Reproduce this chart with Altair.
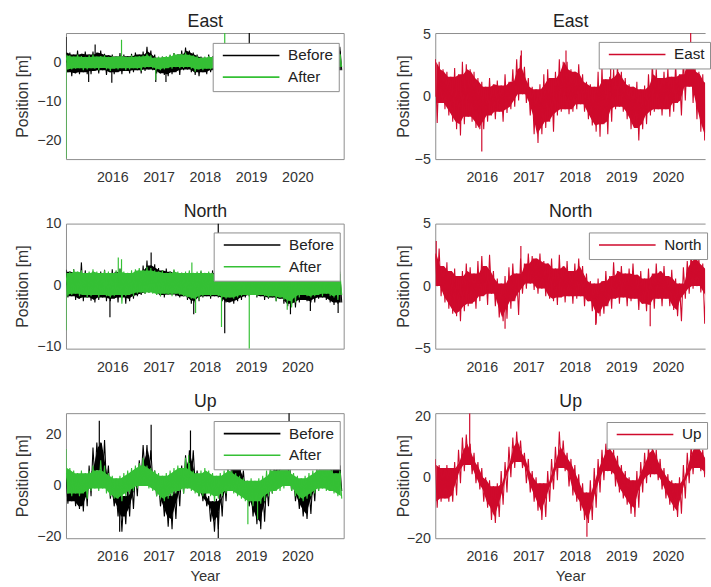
import altair as alt
import pandas as pd

START_YEAR = 2015.0
YEAR_TICKS = [2016, 2017, 2018, 2019, 2020]
BLACK = "#000000"
GREEN = "#35c035"
RED = "#cf0a2c"

# ---- monthly high / low envelopes (Jan 2015 .. Dec 2020) ----
# Left column: East
LE_BEFORE_HI = [2.5, 2.5, 2.0, 3.0, 2.2, 2.8, 2.0, 2.8, 2.5, 3.0, 2.2, 1.8,
                2.0, 1.5, 2.4, 2.0, 1.6, 2.2, 2.5, 2.0, 2.8, 4.0, 3.0, 2.0,
                1.2, 1.5, 1.0, 1.8, 2.4, 2.0, 3.0, 3.8, 3.0, 2.5, 2.0, 1.5,
                1.2, 2.0, 1.5, 2.5, 2.0, 2.0, 2.2, 2.0, 2.4, 2.4, 2.0, 2.2,
                2.2, 2.4, 1.8, 2.6, 2.0, 2.2, 1.6, 2.4, 2.0, 2.8, 2.2, 1.8,
                2.0, 2.6, 2.2, 1.8, 2.4, 2.0, 2.6, 2.2, 2.0, 1.5, 3.0, 4.0]
LE_BEFORE_LO = [-2.5, -3.5, -2.8, -3.0, -2.5, -3.0, -3.0, -2.2, -2.8, -2.0, -3.2, -2.5,
                -3.0, -2.5, -3.0, -2.2, -2.8, -2.5, -2.0, -2.8, -2.2, -1.8, -2.0, -2.8,
                -2.8, -3.2, -3.5, -3.0, -2.5, -3.2, -2.0, -1.8, -2.5, -3.2, -3.5, -2.5,
                -3.0, -2.5, -2.0, -2.5, -2.6, -2.5, -3.0, -2.5, -2.0, -2.0, -2.8, -3.0,
                -2.5, -2.2, -2.8, -2.4, -3.0, -2.0, -2.6, -2.2, -2.8, -2.0, -2.4, -3.0,
                -2.6, -2.2, -2.8, -2.4, -2.0, -2.6, -3.0, -2.6, -3.0, -3.4, -3.5, -2.0]
LE_AFTER_HI = [2.0, 1.8, 1.5, 2.0, 1.6, 1.4, 1.8, 2.0, 1.5, 1.6, 1.8, 1.4,
               1.6, 1.5, 1.6, 1.6, 1.4, 1.8, 1.5, 1.6, 1.8, 2.2, 1.8, 1.2,
               1.5, 1.4, 1.6, 2.0, 2.4, 2.0, 2.2, 2.5, 2.0, 1.8, 1.6, 1.2,
               1.5, 1.6, 1.4, 1.8, 1.6, 1.6, 1.6, 1.5, 1.8, 1.6, 1.4, 1.8,
               1.6, 1.8, 1.4, 1.6, 1.8, 1.5, 1.7, 1.6, 1.4, 1.8, 1.6, 1.5,
               1.7, 1.6, 1.8, 1.5, 1.6, 1.8, 1.6, 1.5, 1.8, 1.6, 2.0, 2.2]
LE_AFTER_LO = [-1.8, -1.8, -1.6, -1.5, -2.0, -1.8, -1.5, -1.6, -2.0, -1.4, -1.8, -2.2,
               -1.6, -1.8, -1.5, -2.0, -1.8, -1.5, -1.6, -2.2, -1.4, -1.2, -1.5, -1.8,
               -2.0, -1.8, -1.5, -1.6, -1.2, -1.5, -1.4, -1.2, -1.6, -2.4, -1.8, -2.0,
               -1.6, -1.8, -1.6, -1.5, -1.8, -1.6, -1.5, -1.8, -1.6, -1.4, -1.8, -1.6,
               -1.6, -1.4, -1.8, -1.5, -1.7, -1.6, -1.4, -1.8, -1.6, -1.5, -1.7, -1.6,
               -1.4, -1.8, -1.5, -1.6, -1.4, -1.6, -1.8, -1.5, -1.4, -1.6, -1.4, -1.2]
LE_BEFORE_SPIKE_T = [2015.0, 2015.49, 2015.63, 2015.99, 2016.94, 2017.16, 2018.40, 2018.96, 2020.80]
LE_BEFORE_SPIKE_V = [6.5, -5.0, 4.6, -5.2, -5.0, -5.0, -6.7, 7.5, -4.7]
LE_BEFORE_SPIKE_B = [0, 0, 0, 0, 0, 0, 0, 0, 0]
LE_AFTER_SPIKE_T = [2015.0, 2016.20, 2016.94, 2018.43, 2018.96]
LE_AFTER_SPIKE_V = [-24.5, 5.8, -4.5, 7.5, -7.0]
LE_AFTER_SPIKE_B = [0, 0, 0, 0, 0]

# Left column: North
LN_BEFORE_HI = [2.5, 2.2, 2.6, 2.0, 3.7, 2.4, 2.0, 2.2, 1.8, 2.2, 2.5, 2.0,
                2.6, 2.2, 2.7, 1.8, 1.6, 1.8, 2.2, 2.5, 3.2, 4.0, 3.2, 3.4,
                2.8, 2.4, 2.7, 2.2, 2.4, 1.8, 2.0, 1.6, 2.2, 1.8, 2.0, 2.2,
                1.8, 2.0, 2.4, 2.0, 1.6, 1.2, 1.0, 1.4, 1.2, 1.6, 1.8, 2.0,
                1.8, 2.2, 1.6, 1.8, 1.4, 1.6, 1.8, 1.4, 1.2, 1.0, 0.8, 1.2,
                1.6, 1.8, 2.0, 1.6, 1.4, 1.8, 2.2, 2.0, 2.6, 1.8, 1.4, 1.8]
LN_BEFORE_LO = [-2.0, -1.8, -2.4, -2.2, -2.6, -2.0, -2.5, -2.8, -2.4, -2.0, -2.6, -2.6,
                -2.2, -2.8, -2.0, -3.0, -2.6, -2.2, -1.8, -1.6, -1.4, -1.2, -1.0, -1.6,
                -1.8, -2.0, -1.6, -1.5, -1.8, -2.0, -1.8, -2.4, -3.0, -2.8, -2.6, -2.0,
                -1.8, -2.2, -1.8, -2.0, -2.6, -2.8, -2.8, -3.0, -2.6, -2.4, -2.0, -1.8,
                -1.6, -2.0, -1.8, -2.4, -2.2, -2.0, -2.6, -2.2, -3.0, -3.4, -3.0, -3.6,
                -2.8, -2.4, -2.6, -2.8, -2.8, -2.2, -2.0, -2.4, -2.8, -3.2, -3.0, -2.8]
LN_AFTER_HI = [2.0, 2.2, 2.6, 2.2, 2.4, 2.0, 2.2, 2.6, 2.2, 2.0, 2.4, 2.2,
               2.0, 2.4, 2.6, 2.2, 2.0, 2.4, 2.6, 2.8, 2.4, 3.0, 2.8, 2.4,
               2.2, 2.4, 2.0, 2.2, 2.6, 2.2, 2.0, 2.2, 2.4, 2.0, 2.2, 2.4,
               2.0, 2.2, 2.0, 1.8, 1.6, 1.4, 1.6, 1.8, 1.6, 1.8, 2.0, 1.8,
               2.0, 2.2, 1.8, 2.0, 1.6, 1.8, 2.0, 1.6, 1.4, 1.2, 1.0, 1.4,
               1.8, 2.0, 2.2, 2.0, 1.8, 2.0, 2.2, 2.6, 2.2, 2.0, 1.8, 2.2]
LN_AFTER_LO = [-1.8, -1.6, -1.4, -1.8, -1.6, -2.0, -1.8, -1.6, -2.0, -1.6, -1.8, -2.0,
               -1.8, -1.6, -3.0, -1.8, -1.6, -1.8, -1.4, -1.2, -1.4, -1.2, -1.4, -1.6,
               -1.8, -1.4, -1.6, -1.8, -1.4, -1.6, -1.8, -2.0, -2.2, -2.2, -2.4, -1.8,
               -1.6, -1.8, -1.6, -1.8, -2.0, -2.2, -2.0, -2.2, -2.0, -1.8, -1.6, -1.8,
               -1.6, -1.8, -1.6, -1.8, -2.0, -1.8, -2.6, -2.0, -2.4, -2.6, -3.6, -2.8,
               -2.0, -1.6, -1.8, -2.0, -1.8, -1.6, -1.8, -1.4, -1.8, -2.0, -2.4, -1.6]
LN_BEFORE_SPIKE_T = [2015.95, 2016.84, 2017.76, 2018.29, 2018.43, 2019.85, 2020.28, 2020.88]
LN_BEFORE_SPIKE_V = [-5.2, 5.3, -4.7, 10.0, -7.8, -4.7, -4.2, -4.5]
LN_BEFORE_SPIKE_B = [0, 0, 0, 0, 0, 0, 0, 0]
LN_AFTER_SPIKE_T = [2015.0, 2016.13, 2016.20, 2017.72, 2017.80, 2018.36, 2018.96, 2019.78]
LN_AFTER_SPIKE_V = [-7.3, 4.5, 4.2, 3.7, -4.5, -6.8, -10.3, -4.0]
LN_AFTER_SPIKE_B = [0, 0, 0, 0, 0, 0, 0, 0]

# Left column: Up
LU_BEFORE_HI = [5, 3, 2, 1, 3, 4, 8, 15, 17, 17, 18, 8,
                0, -2, -3, -4, 0, 3, 6, 10, 16, 16, 14, 6,
                2, -2, -4, -3, -1, 3, 8, 12, 14, 14, 6, 2,
                0, -4, -6, -5, 0, 4, 7, 10, 12, 10, 6, 2,
                -1, -3, -2, 0, 2, 6, 8, 10, 12, 12, 8, 4,
                0, -2, -3, -1, 3, 7, 12, 15, 19, 17, 12, 8]
LU_BEFORE_LO = [-7, -6, -8, -9, -10, -8, -4, 2, 6, 2, 0, -5,
                -8, -12, -18, -15, -12, -9, -4, 2, 5, 4, 2, -4,
                -8, -12, -16, -17, -13, -8, -3, 1, 2, 0, -4, -6,
                -8, -14, -18, -17, -12, -6, -2, 0, 2, 0, -4, -8,
                -12, -15, -17, -14, -8, -3, 0, 2, 3, 2, -2, -6,
                -9, -12, -13, -11, -6, -2, 2, 4, 5, 3, 0, -2]
LU_AFTER_HI = [7, 7, 6, 5, 6, 5, 6, 8, 6, 10, 8, 5,
               4, 3, 4, 5, 6, 7, 8, 9, 11, 8, 7, 6,
               5, 4, 5, 6, 7, 8, 7, 11, 9, 6, 5, 6,
               7, 6, 5, 4, 5, 6, 7, 6, 5, 4, 3, 2,
               3, 2, 3, 4, 6, 8, 6, 7, 8, 10, 7, 5,
               4, 3, 4, 5, 6, 7, 8, 9, 8, 7, 5, 6]
LU_AFTER_LO = [-3, -4, -3, -4, -3, -5, -2, -1, -2, -1, -3, -4,
               -5, -5, -6, -4, -3, -2, -1, 0, 0, -1, -2, -4,
               -5, -6, -5, -4, -3, -2, -3, -1, -2, -3, -4, -4,
               -3, -4, -6, -5, -4, -3, -2, -3, -4, -5, -6, -6,
               -8, -6, -7, -6, -4, -3, -2, -2, -1, 0, -2, -4,
               -5, -6, -5, -4, -3, -2, -1, -2, -2, -3, -4, -5]
LU_BEFORE_SPIKE_T = [2015.72, 2016.16, 2016.84, 2017.69, 2018.29, 2019.82]
LU_BEFORE_SPIKE_V = [25.5, -18.0, 24.0, 21.7, -20.5, 29.0]
LU_BEFORE_SPIKE_B = [10, -10, 10, 8, -10, 5]
LU_AFTER_SPIKE_T = [2015.0, 2017.65, 2018.93, 2019.14]
LU_AFTER_SPIKE_V = [14.5, 12.0, -15.0, -13.0]
LU_AFTER_SPIKE_B = [3, 3, -3, -3]

# Right column
RE_HI = [3.0, 2.8, 2.2, 2.0, 1.6, 2.3, 1.8, 2.8, 2.6, 2.2, 2.0, 1.5,
         1.2, 0.8, 1.5, 1.0, 1.3, 0.9, 1.8, 1.2, 2.2, 3.0, 3.3, 2.4,
         1.5, 0.8, 0.6, 1.0, 1.8, 2.2, 1.5, 2.0, 3.0, 2.8, 2.8, 2.2,
         2.0, 2.6, 1.8, 1.2, 1.0, 0.8, 2.0, 2.4, 1.4, 1.6, 2.2, 2.5,
         2.0, 1.5, 1.0, 0.8, 1.2, 0.6, 0.9, 1.8, 2.8, 2.2, 1.5, 2.0,
         2.3, 1.6, 2.6, 1.8, 3.0, 3.6, 3.8, 2.5, 2.0, 1.8, 1.2, 1.0]
RE_LO = [-2.1, -0.5, -1.0, -1.5, -2.0, -2.6, -3.1, -2.2, -1.6, -2.0, -2.5, -2.6,
         -2.6, -2.0, -1.5, -1.8, -1.2, -2.0, -1.3, -1.0, -0.8, -0.3, 0.2, -0.5,
         -1.5, -3.0, -3.7, -3.0, -2.5, -2.0, -2.8, -1.5, -1.2, -1.0, -1.4, -1.2,
         -1.0, -0.6, -1.2, -1.8, -2.3, -2.8, -3.2, -2.2, -3.0, -2.0, -1.0, -0.8,
         -1.2, -1.8, -2.6, -2.5, -3.5, -2.6, -2.2, -1.5, -1.2, -1.0, -1.5, -1.0,
         -1.6, -1.2, -0.5, -1.5, -0.3, 0.8, -0.5, -1.8, -2.8, -3.5, -4.0, -3.0]
RE_SPIKE_T = [2015.0, 2016.0, 2016.85, 2017.81, 2018.77, 2020.49]
RE_SPIKE_V = [3.0, -4.4, 3.7, 3.7, 3.1, 5.2]
RE_SPIKE_B = [0, -1, 1, 0, 0, 2]
RN_HI = [2.6, 3.0, 1.6, 1.9, 1.2, 1.4, 0.8, 1.2, 1.8, 1.5, 1.0, 2.0,
         2.4, 1.6, 2.5, 1.2, 0.6, 0.2, 0.8, 1.5, 1.8, 1.0, 2.2, 1.8,
         2.6, 2.4, 2.2, 2.6, 2.0, 1.8, 2.2, 1.4, 2.5, 1.6, 2.0, 1.2,
         1.8, 2.2, 1.6, 1.0, 0.4, 0.2, 0.6, 0.4, 1.2, 0.8, 1.9, 1.2,
         1.6, 1.0, 1.4, 1.8, 0.9, 1.2, 0.6, 1.4, 1.0, 1.8, 1.2, 1.6,
         0.8, 1.3, 0.6, 0.2, 1.5, 2.0, 2.4, 2.8, 2.2, 1.8, 1.5, 1.2]
RN_LO = [0.0, -0.8, -1.3, -1.8, -2.2, -2.4, -2.8, -2.0, -1.6, -1.4, -1.8, -1.2,
         -0.8, -1.5, -0.6, -1.6, -2.5, -2.8, -2.6, -1.8, -1.2, -2.3, -0.6, -0.2,
         0.2, -0.3, -0.6, -0.2, -0.8, -1.0, -1.2, -1.5, -0.9, -1.3, -0.8, -1.4,
         -1.0, -0.8, -1.6, -1.2, -2.0, -3.0, -2.4, -2.2, -1.6, -1.8, -1.0, -1.4,
         -0.9, -1.6, -1.2, -1.0, -1.9, -1.4, -2.0, -1.5, -1.8, -1.0, -1.6, -1.0,
         -1.6, -1.9, -2.4, -2.8, -1.0, -0.6, -0.2, 0.0, -0.5, -3.0, -1.0, -1.2]
RN_SPIKE_T = [2015.02, 2016.50, 2016.84, 2018.45, 2019.62, 2020.50]
RN_SPIKE_V = [3.6, -3.4, 3.2, -3.1, -3.2, 3.3]
RN_SPIKE_B = [0, -1, 1, -1, -1, 1]
RU_HI = [6, 4, 3, 4, 3, 5, 9, 13, 14, 11, 8, 5,
         3, 0, -1, -3, -2, 2, 5, 10, 13, 15, 12, 8,
         6, 2, 0, -2, -2, 2, 6, 10, 15, 12, 8, 6,
         4, 1, -2, -5, -1, 3, 6, 9, 11, 10, 9, 7,
         4, 2, 0, -1, 2, 5, 8, 10, 10, 9, 6, 3,
         1, -1, -2, 0, 4, 8, 11, 12, 11, 9, 7, 5]
RU_LO = [-10, -8, -7, -8, -8, -6, -2, 2, 4, 1, -2, -4,
         -8, -10, -14, -15, -13, -9, -5, 0, 3, 5, 3, -2,
         -5, -8, -11, -14, -13, -8, -4, -1, 3, 2, -3, -6,
         -8, -11, -14, -15, -14, -10, -5, -1, 2, 1, -3, -5,
         -7, -9, -12, -13, -10, -5, -2, 0, 1, -1, -4, -7,
         -9, -11, -13, -12, -7, -2, 1, 3, 2, 0, -3, -5]
RU_SPIKE_T = [2015.74, 2018.26]
RU_SPIKE_V = [21.0, -19.5]
RU_SPIKE_B = [8, -8]

FONT = "Liberation Sans"
AX_GRAY = "#8c8c8c"
TXT = "#333333"


def zigzag_df(hi, lo, name):
    t, v = [], []
    for m in range(len(hi)):
        t.append(START_YEAR + m / 12.0)
        v.append(hi[m])
        t.append(START_YEAR + (m + 0.5) / 12.0)
        v.append(lo[m])
    return pd.DataFrame({"t": t, "v": v, "s": name})


def band_df(hi, lo):
    t = [START_YEAR + (m + 0.25) / 12.0 for m in range(len(hi))]
    return pd.DataFrame({"t": t, "lo": lo, "hi": hi})


def spike_df(ts, vs, bs):
    return pd.DataFrame({"t": ts, "v": vs, "b": bs})


def make_panel(title, series, ydom, yvals, xmax, width, height, legend_x, legend_y,
               title_x, right, xtitle):
    names = [s["name"] for s in series]
    colors = [s["color"] for s in series]
    xscale = alt.Scale(domain=[START_YEAR, xmax], nice=False, zero=False)
    yscale = alt.Scale(domain=ydom, nice=False, zero=False)
    cscale = alt.Scale(domain=names, range=colors)
    legend = alt.Legend(orient="none", legendX=legend_x, legendY=legend_y, title=None,
                        symbolType="M-1,0H22", symbolSize=25, symbolStrokeWidth=1.6,
                        labelOffset=56, labelFontSize=15.5, labelFont=FONT, labelColor="#222222",
                        fillColor="white", strokeColor=AX_GRAY, padding=5, rowPadding=5)
    xaxis = alt.Axis(values=YEAR_TICKS, format="d", labelPadding=12, titlePadding=5,
                     title=("Year" if xtitle else None), titleFontSize=15,
                     domain=True, domainColor=AX_GRAY)
    yaxis = alt.Axis(values=yvals, title="Position [m]", titleX=title_x, titleY=height / 2,
                     titleBaseline="middle", titleAlign="center", labelPadding=5,
                     domain=True, domainColor=AX_GRAY)
    layers = []
    for i, s in enumerate(series):
        first = i == 0
        # solid core of the noisy band: the library takes the inner envelope of neighbouring months
        layers.append(
            alt.Chart(band_df(s["hi"], s["lo"]))
            .transform_window(core_hi="min(hi)", core_lo="max(lo)", frame=[-1, 1],
                              sort=[alt.SortField("t")])
            .mark_area(color=s["color"], clip=True).encode(
                x=alt.X("t:Q", scale=xscale, axis=None),
                y=alt.Y("core_lo:Q", scale=yscale, axis=None),
                y2="core_hi:Q",
            )
        )
        layers.append(
            alt.Chart(spike_df(s["st"], s["sv"], s["sb"])).mark_rule(
                color=s["color"], strokeWidth=1.2, clip=True).encode(
                x=alt.X("t:Q", scale=xscale, axis=None),
                y=alt.Y("v:Q", scale=yscale, axis=None),
                y2="b:Q",
            )
        )
        layers.append(
            alt.Chart(zigzag_df(s["hi"], s["lo"], s["name"])).mark_line(
                strokeWidth=1.1, clip=True).encode(
                x=alt.X("t:Q", scale=xscale, axis=(xaxis if first else None)),
                y=alt.Y("v:Q", scale=yscale, axis=(yaxis if first else None)),
                color=alt.Color("s:N", scale=cscale, legend=legend),
            )
        )
    top_axis = alt.Axis(orient="top", labels=False, ticks=False, domain=True,
                        domainColor=AX_GRAY, title=title, titleFontSize=18,
                        titleColor="#222222", titlePadding=3, titleFont=FONT)
    if right:
        yright = alt.Y("v:Q", scale=yscale, axis=None)
    else:
        yright = alt.Y("v:Q", scale=yscale,
                       axis=alt.Axis(orient="right", labels=False, ticks=False, domain=True,
                                     domainColor=AX_GRAY, title=None))
    layers.append(
        alt.Chart(spike_df([START_YEAR + 1], [0], [0])).mark_point(opacity=0).encode(
            x=alt.X("t:Q", scale=xscale, axis=top_axis),
            y=yright,
        )
    )
    return (alt.layer(*layers)
            .resolve_axis(x="independent", y="independent")
            .properties(width=width, height=height))


def left_series(bh, bl, bt, bv, bb, ah, al, at, av, ab):
    return [dict(name="Before", color=BLACK, hi=bh, lo=bl, st=bt, sv=bv, sb=bb),
            dict(name="After", color=GREEN, hi=ah, lo=al, st=at, sv=av, sb=ab)]


LW, RW = 282, 274
H1, H2, H3 = 128, 127, 127
p1 = make_panel("East", left_series(LE_BEFORE_HI, LE_BEFORE_LO, LE_BEFORE_SPIKE_T, LE_BEFORE_SPIKE_V,
                                    LE_BEFORE_SPIKE_B, LE_AFTER_HI, LE_AFTER_LO, LE_AFTER_SPIKE_T,
                                    LE_AFTER_SPIKE_V, LE_AFTER_SPIKE_B),
                [-24.7, 7.5], [-20, -10, 0], 2021.0, LW, H1, 149, 10, -44, False, False)
p2 = make_panel("East", [dict(name="East", color=RED, hi=RE_HI, lo=RE_LO, st=RE_SPIKE_T,
                              sv=RE_SPIKE_V, sb=RE_SPIKE_B)],
                [-5, 5.1], [-5, 0, 5], 2020.8, RW, H1, 166, 9, -32, True, False)
p3 = make_panel("North", left_series(LN_BEFORE_HI, LN_BEFORE_LO, LN_BEFORE_SPIKE_T, LN_BEFORE_SPIKE_V,
                                     LN_BEFORE_SPIKE_B, LN_AFTER_HI, LN_AFTER_LO, LN_AFTER_SPIKE_T,
                                     LN_AFTER_SPIKE_V, LN_AFTER_SPIKE_B),
                [-10.3, 10], [-10, 0, 10], 2021.0, LW, H2, 150, 9, -44, False, False)
p4 = make_panel("North", [dict(name="North", color=RED, hi=RN_HI, lo=RN_LO, st=RN_SPIKE_T,
                               sv=RN_SPIKE_V, sb=RN_SPIKE_B)],
                [-5, 5], [-5, 0, 5], 2020.8, RW, H2, 156, 9, -32, True, False)
p5 = make_panel("Up", left_series(LU_BEFORE_HI, LU_BEFORE_LO, LU_BEFORE_SPIKE_T, LU_BEFORE_SPIKE_V,
                                  LU_BEFORE_SPIKE_B, LU_AFTER_HI, LU_AFTER_LO, LU_AFTER_SPIKE_T,
                                  LU_AFTER_SPIKE_V, LU_AFTER_SPIKE_B),
                [-20.5, 28.5], [-20, 0, 20], 2021.0, LW, H3, 150, 8, -44, False, True)
p6 = make_panel("Up", [dict(name="Up", color=RED, hi=RU_HI, lo=RU_LO, st=RU_SPIKE_T,
                            sv=RU_SPIKE_V, sb=RU_SPIKE_B)],
                [-20, 21], [-20, 0, 20], 2020.8, RW, H3, 174, 9, -32, True, True)

chart = (
    alt.concat(p1, p2, p3, p4, p5, p6, columns=2,
               spacing=alt.RowColnumber(row=17.5, column=51))
    .resolve_scale(x="independent", y="independent", color="independent")
    .resolve_legend(color="independent")
    .properties(padding={"left": 14, "top": 7, "right": 0, "bottom": 0}, background="white")
    .configure_view(stroke="transparent")
    .configure_axis(labelFont=FONT, labelFontSize=14.5, labelColor=TXT, titleFont=FONT,
                    titleFontSize=16, titleFontWeight="normal", titleColor=TXT,
                    grid=False, ticks=False)
)

chart.save("out.html", embed_options={"renderer": "svg", "actions": False})
